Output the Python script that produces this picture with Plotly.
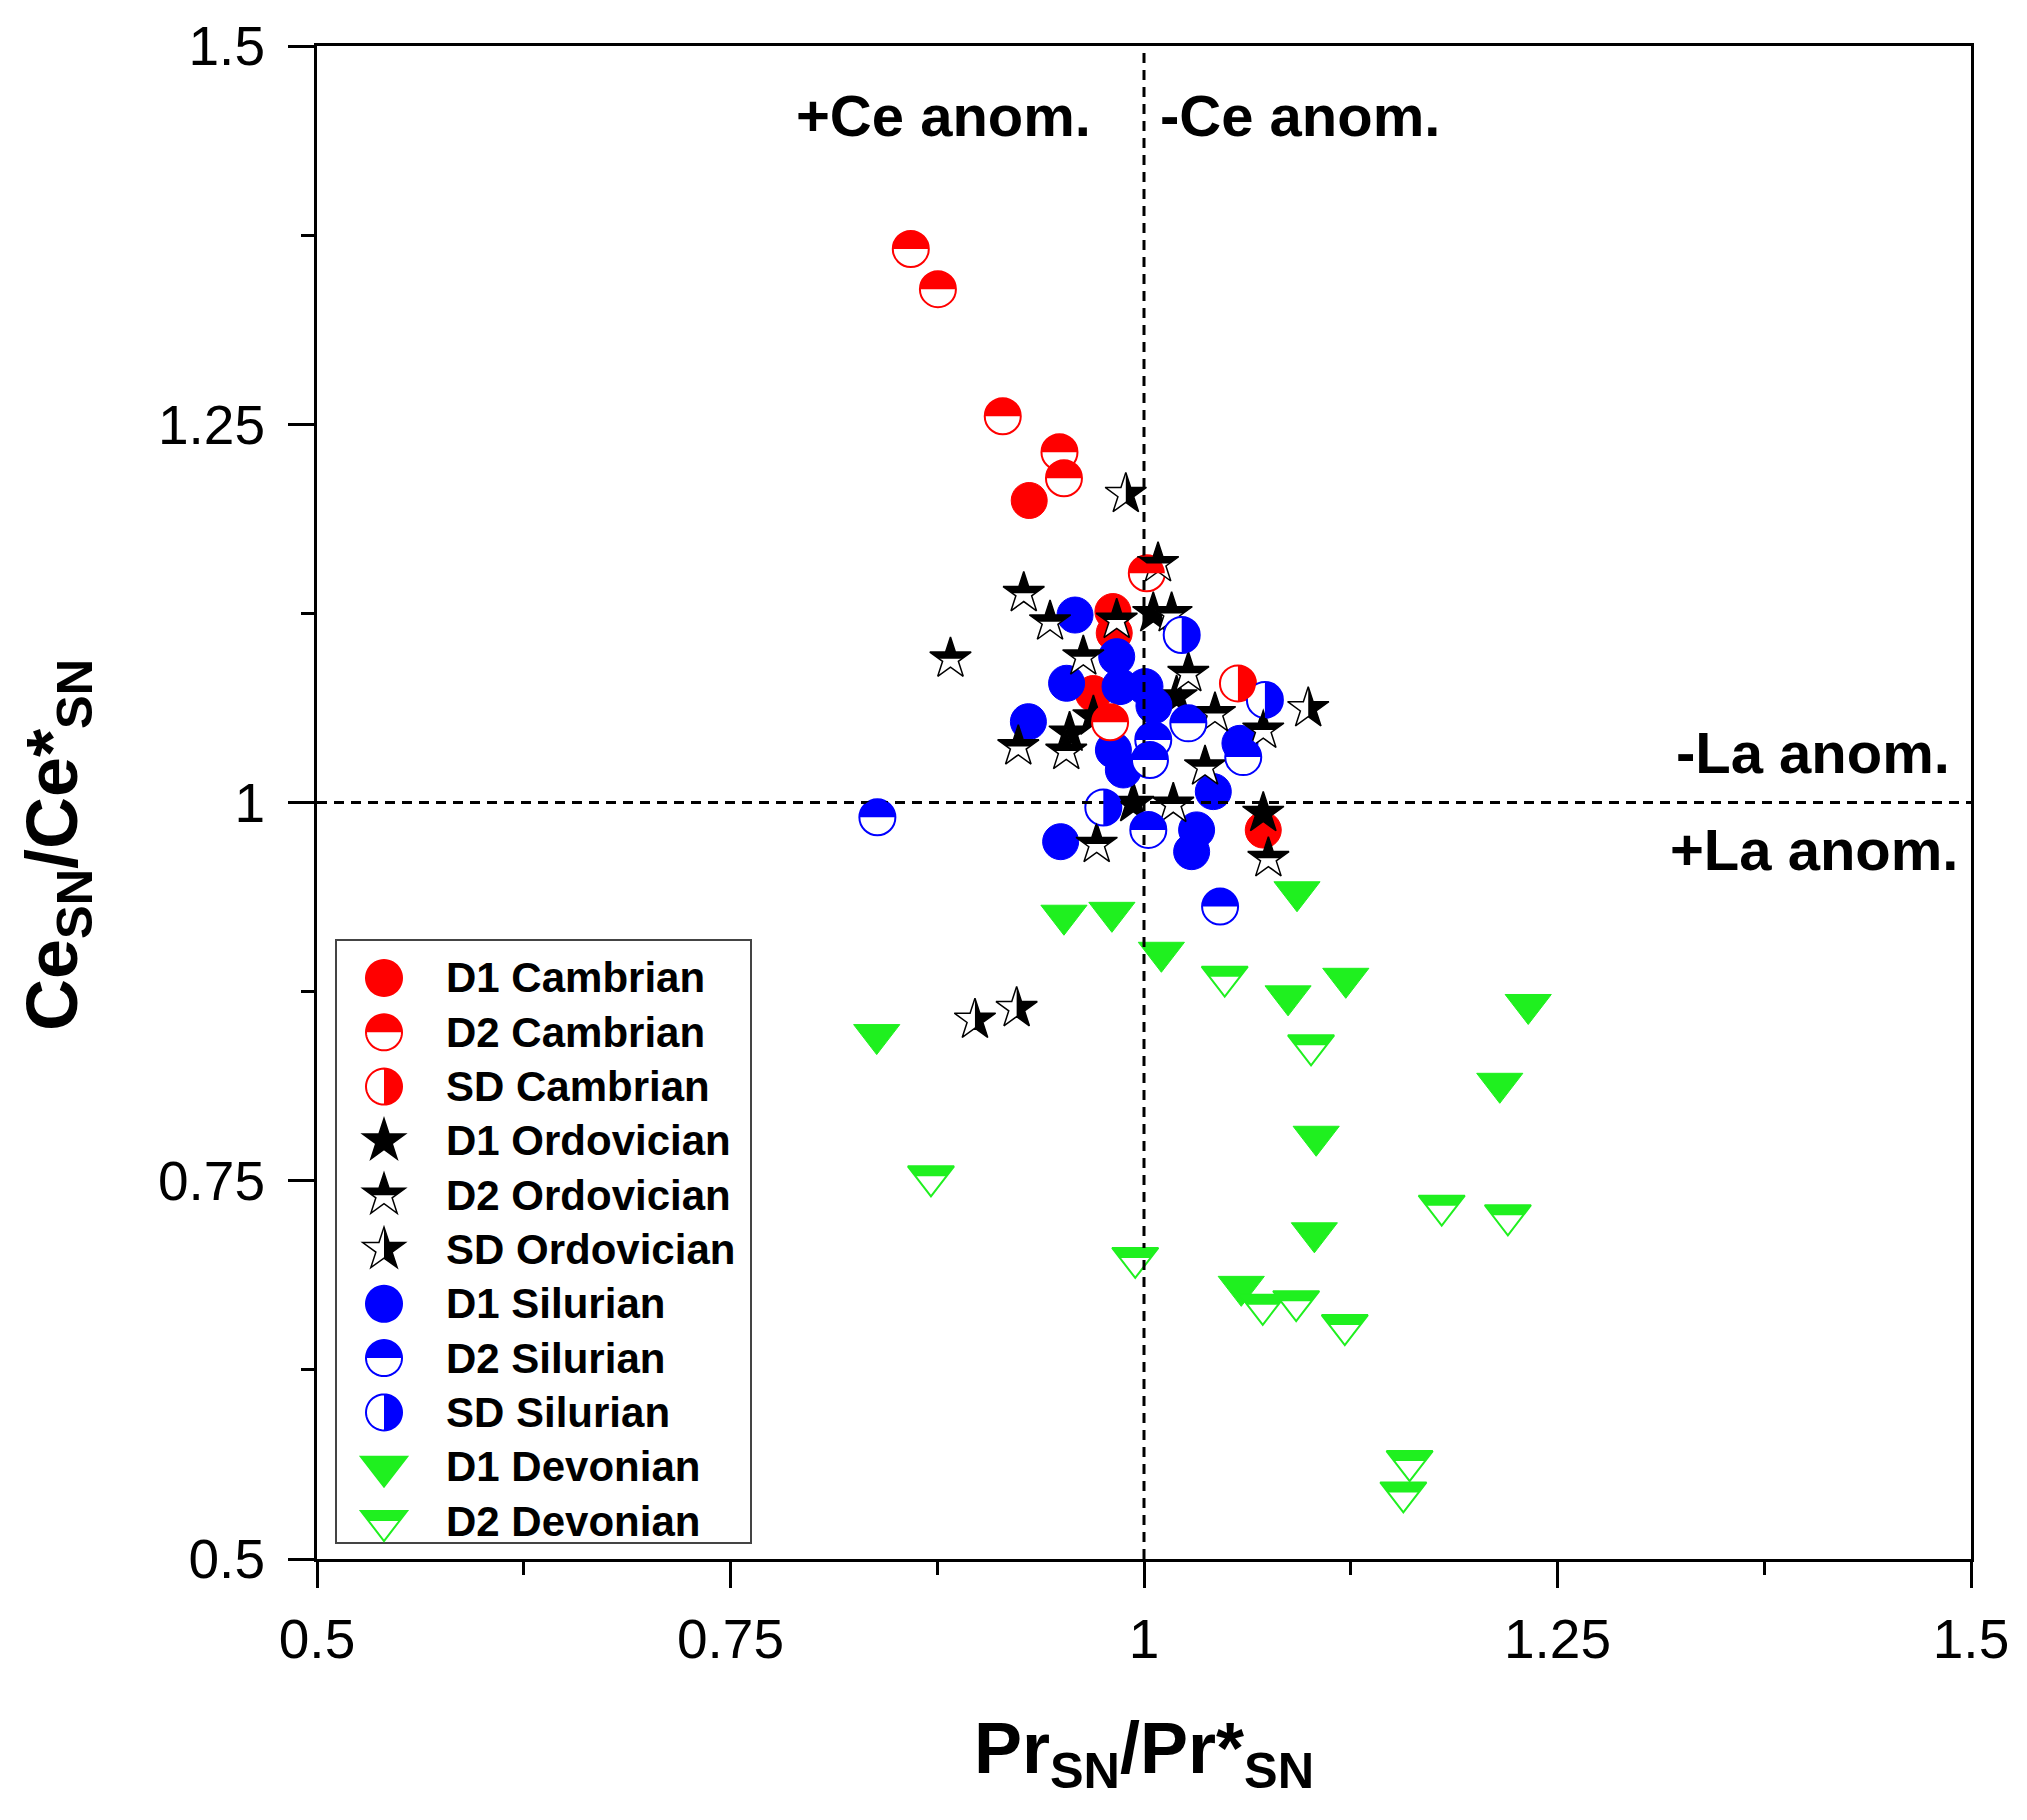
import math
import plotly.graph_objects as go

# ---------------- data ----------------
d1_cambrian_x = [0.9306, 0.9812, 0.9820, 0.9694, 1.0721]
d1_cambrian_y = [1.1996, 1.1262, 1.1120, 1.0720, 0.9818]

d2_cambrian_x = [0.8590, 0.8754, 0.9146, 0.9489, 0.9516, 1.0017, 0.9795]
d2_cambrian_y = [1.3658, 1.3393, 1.2553, 1.2315, 1.2143, 1.1515, 1.0530]

sd_cambrian_x = [1.0568]
sd_cambrian_y = [1.0787]

d1_ordovician_x = [1.0056, 0.9694, 1.0197, 0.9550, 0.9935, 1.0721]
d1_ordovician_y = [1.1250, 1.0567, 1.0700, 1.0460, 0.9995, 0.9930]

d2_ordovician_x = [1.0085, 0.9273, 0.9432, 0.9835, 1.0167, 0.8830, 0.9633, 1.0268,
                   1.0429, 1.0721, 0.9240, 0.9530, 1.0369, 1.0177, 0.9714, 1.0752]
d2_ordovician_y = [1.1580, 1.1383, 1.1195, 1.1206, 1.1250, 1.0950, 1.0964, 1.0854,
                   1.0589, 1.0480, 1.0370, 1.0340, 1.0237, 0.9990, 0.9725, 0.9631]

sd_ordovician_x = [0.9890, 1.0993, 0.8978, 0.9230]
sd_ordovician_y = [1.2038, 1.0622, 0.8563, 0.8640]

d1_silurian_x = [0.9583, 0.9835, 0.9532, 0.9855, 1.0006, 1.0060, 0.9301, 0.9815,
                 0.9875, 1.0580, 1.0419, 1.0318, 1.0288, 0.9496]
d1_silurian_y = [1.1239, 1.0964, 1.0788, 1.0766, 1.0766, 1.0640, 1.0534, 1.0347,
                 1.0215, 1.0391, 1.0072, 0.9819, 0.9675, 0.9741]

d2_silurian_x = [1.0268, 1.0056, 1.0036, 1.0600, 1.0026, 0.8388, 1.0460]
d2_silurian_y = [1.0523, 1.0413, 1.0281, 1.0300, 0.9819, 0.9902, 0.9312]

sd_silurian_x = [1.0228, 1.0731, 0.9754]
sd_silurian_y = [1.1107, 1.0678, 0.9967]

d1_devonian_x = [0.8384, 0.9516, 0.9806, 1.0105, 1.0925, 1.0871, 1.1220, 1.2323,
                 1.2151, 1.1041, 1.1030, 1.0588]
d1_devonian_y = [0.8466, 0.9255, 0.9274, 0.9010, 0.9410, 0.8722, 0.8838, 0.8665,
                 0.8144, 0.7794, 0.7156, 0.6802]

d2_devonian_x = [1.0488, 1.1010, 0.8712, 1.1800, 1.2200, 0.9947, 1.0718, 1.0920,
                 1.1214, 1.1606, 1.1568]
d2_devonian_y = [0.8849, 0.8395, 0.7529, 0.7335, 0.7272, 0.6990, 0.6680, 0.6704,
                 0.6546, 0.5647, 0.5440]

legend_names = ["D1 Cambrian", "D2 Cambrian", "SD Cambrian",
                "D1 Ordovician", "D2 Ordovician", "SD Ordovician",
                "D1 Silurian", "D2 Silurian", "SD Silurian",
                "D1 Devonian", "D2 Devonian"]

tick_vals = [0.5, 0.75, 1, 1.25, 1.5]
tick_text = ["0.5", "0.75", "1", "1.25", "1.5"]
minor_vals = [0.625, 0.875, 1.125, 1.375]

x_title = "Pr<sub>SN</sub>/Pr*<sub>SN</sub>"
y_title = "Ce<sub>SN</sub>/Ce*<sub>SN</sub>"

# ---------------- styling ----------------
FONT = "Liberation Sans, Arial, Helvetica, sans-serif"
RED = "#FF0000"
BLUE = "#0000FF"
GREEN = "#1FF01F"
BLACK = "#000000"

CIRC = 36   # marker sizes (px)
STAR = 31
TRI = 40

series = [
    ("D1 Cambrian", d1_cambrian_x, d1_cambrian_y, "circle", "full", RED),
    ("D1 Ordovician", d1_ordovician_x, d1_ordovician_y, "star", "full", BLACK),
    ("D1 Silurian", d1_silurian_x, d1_silurian_y, "circle", "full", BLUE),
    ("D1 Devonian", d1_devonian_x, d1_devonian_y, "triangle", "full", GREEN),
    ("D2 Cambrian", d2_cambrian_x, d2_cambrian_y, "circle", "top", RED),
    ("SD Cambrian", sd_cambrian_x, sd_cambrian_y, "circle", "right", RED),
    ("D2 Ordovician", d2_ordovician_x, d2_ordovician_y, "star", "top", BLACK),
    ("SD Ordovician", sd_ordovician_x, sd_ordovician_y, "star", "right", BLACK),
    ("D2 Silurian", d2_silurian_x, d2_silurian_y, "circle", "top", BLUE),
    ("SD Silurian", sd_silurian_x, sd_silurian_y, "circle", "right", BLUE),
    ("D2 Devonian", d2_devonian_x, d2_devonian_y, "triangle", "top", GREEN),
]
style_of = {s[0]: (s[3], s[4], s[5]) for s in series}


# ---------------- marker geometry (svg coords: y down) ----------------
def circle_poly(r, n=48):
    return [(r * math.cos(2 * math.pi * k / n), r * math.sin(2 * math.pi * k / n)) for k in range(n)]


def star_poly(r):
    rs = r * 1.4
    x1, x2, x3, x4 = 0.225 * rs, 0.951 * rs, 0.363 * rs, 0.588 * rs
    y1, y2, y3, y4, y5 = -rs, -0.309 * rs, 0.118 * rs, 0.809 * rs, 0.382 * rs
    return [(x1, y2), (x2, y2), (x3, y3), (x4, y4), (0, y5), (-x4, y4),
            (-x3, y3), (-x2, y2), (-x1, y2), (0, y1)]


def tri_poly(r):
    rt = r * 2 / math.sqrt(3)
    return [(-rt, -r / 2), (rt, -r / 2), (0, r)]


def clip(poly, half):
    # keep top (y<=0) or right (x>=0) part of polygon
    def inside(p):
        return p[1] <= 0 if half == "top" else p[0] >= 0

    def inter(a, b):
        if half == "top":
            t = a[1] / (a[1] - b[1])
        else:
            t = a[0] / (a[0] - b[0])
        return (a[0] + t * (b[0] - a[0]), a[1] + t * (b[1] - a[1]))

    out = []
    n = len(poly)
    for i in range(n):
        cur, prev = poly[i], poly[i - 1]
        if inside(cur):
            if not inside(prev):
                out.append(inter(prev, cur))
            out.append(cur)
        elif inside(prev):
            out.append(inter(prev, cur))
    return out


def path_of(poly):
    # pixel-size shapes use y upward
    pts = ["%.2f,%.2f" % (p[0], -p[1]) for p in poly]
    return "M" + " L".join(pts) + " Z"


def base_poly(kind, size):
    r = size / 2
    if kind == "circle":
        return circle_poly(r)
    if kind == "star":
        return star_poly(r)
    return tri_poly(r)


plotly_symbol = {"circle": "circle", "star": "star", "triangle": "triangle-down"}
size_of = {"circle": CIRC, "star": STAR, "triangle": TRI}

fig = go.Figure()
shapes = []

# reference dashed lines
shapes.append(dict(type="line", xref="x", yref="paper", x0=1, x1=1, y0=0, y1=1,
                   line=dict(color=BLACK, width=3, dash="10px,7px"), layer="above"))
shapes.append(dict(type="line", xref="paper", yref="y", x0=0, x1=1, y0=1, y1=1,
                   line=dict(color=BLACK, width=3, dash="10px,7px"), layer="above"))

for name, xs, ys, kind, fill, color in series:
    full = fill == "full"
    fig.add_trace(go.Scatter(
        x=xs, y=ys, mode="markers", name=name, showlegend=False,
        marker=dict(symbol=plotly_symbol[kind], size=size_of[kind],
                    color=color if full else "white",
                    line=dict(color=BLACK if kind == "star" else color,
                              width=1.5 if kind == "star" else (1 if full else 2))),
    ))
    if not full:
        hp = path_of(clip(base_poly(kind, size_of[kind]), fill))
        for xv, yv in zip(xs, ys):
            shapes.append(dict(type="path", xref="x", yref="y",
                               xsizemode="pixel", ysizemode="pixel",
                               xanchor=xv, yanchor=yv, path=hp,
                               fillcolor=color, line=dict(width=0), layer="above"))

# ---------------- layout geometry (screen px; page has an 8px body margin) ----------------
OFF = 8
FIG_W, FIG_H = 2027, 1820
PL, PR, PT, PB = 317, 1971, 46, 1559
W, H = PR - PL, PB - PT


def px2paper(px, py):
    return (px - PL) / W, (PB - py) / H


# ---------------- custom legend ----------------
lx0, ly0 = px2paper(336, 1543)
lx1, ly1 = px2paper(751, 940)
shapes.append(dict(type="rect", xref="paper", yref="paper", x0=lx0, x1=lx1, y0=ly0, y1=ly1,
                   line=dict(color="#444444", width=2), fillcolor="white", layer="above"))

annotations = []
leg_sizes = {"circle": 36, "star": 32, "triangle": 40}
for i, name in enumerate(legend_names):
    kind, fill, color = style_of[name]
    py = 978 + 54.3 * i
    mx, my = px2paper(384, py)
    poly = base_poly(kind, leg_sizes[kind])
    full = fill == "full"
    shapes.append(dict(type="path", xref="paper", yref="paper",
                       xsizemode="pixel", ysizemode="pixel", xanchor=mx, yanchor=my,
                       path=path_of(poly), fillcolor=color if full else "white",
                       line=dict(color=BLACK if kind == "star" else color,
                                 width=1.5 if kind == "star" else 2), layer="above"))
    if not full:
        shapes.append(dict(type="path", xref="paper", yref="paper",
                           xsizemode="pixel", ysizemode="pixel", xanchor=mx, yanchor=my,
                           path=path_of(clip(poly, fill)), fillcolor=color,
                           line=dict(width=0), layer="above"))
    tx, ty = px2paper(444, py)
    annotations.append(dict(xref="paper", yref="paper", x=tx, y=ty, text=name,
                            showarrow=False, xanchor="left", yanchor="middle",
                            font=dict(family=FONT, size=42, color=BLACK, weight="bold")))

# anomaly labels
lab_font = dict(family=FONT, size=58, color=BLACK, weight="bold")
annotations += [
    dict(xref="x", yref="y", x=0.9690, y=1.4540, text="+Ce anom.", showarrow=False,
         xanchor="right", yanchor="middle", font=lab_font),
    dict(xref="x", yref="y", x=1.0085, y=1.4540, text="-Ce anom.", showarrow=False,
         xanchor="left", yanchor="middle", font=lab_font),
    dict(xref="x", yref="y", x=1.4885, y=1.0330, text="-La anom.", showarrow=False,
         xanchor="right", yanchor="middle", font=lab_font),
    dict(xref="x", yref="y", x=1.4935, y=0.9690, text="+La anom.", showarrow=False,
         xanchor="right", yanchor="middle", font=lab_font),
]

# y-axis title (placed as rotated text, centred where the reference puts it)
ytx, yty = px2paper(58, 845)
annotations.append(dict(xref="paper", yref="paper", x=ytx, y=yty, text=y_title,
                        textangle=-90, showarrow=False, xanchor="center", yanchor="middle",
                        font=dict(family=FONT, size=72, color=BLACK, weight="bold")))

axis_common = dict(
    range=[0.5, 1.5], showline=True, linecolor=BLACK, linewidth=3, mirror=True,
    ticks="outside", ticklen=26, tickwidth=3, tickcolor=BLACK,
    tickmode="array", tickvals=tick_vals, ticktext=tick_text,
    tickfont=dict(family=FONT, size=55, color=BLACK),
    showgrid=False, zeroline=False,
    minor=dict(tickmode="array", tickvals=minor_vals, ticks="outside", ticklen=13,
               tickwidth=2.5, tickcolor=BLACK, showgrid=False),
)

fig.update_layout(
    width=FIG_W, height=FIG_H,
    margin=dict(l=PL - OFF, r=FIG_W - PR + OFF, t=PT - OFF, b=FIG_H - PB + OFF, autoexpand=False),
    paper_bgcolor="white", plot_bgcolor="white",
    showlegend=False,
    xaxis=dict(axis_common, ticklabelstandoff=4,
               title=dict(text=x_title, standoff=54,
                          font=dict(family=FONT, size=72, color=BLACK, weight="bold"))),
    yaxis=dict(axis_common, ticklabelstandoff=12),
    shapes=shapes,
    annotations=annotations,
)

fig.write_html("out.html")
